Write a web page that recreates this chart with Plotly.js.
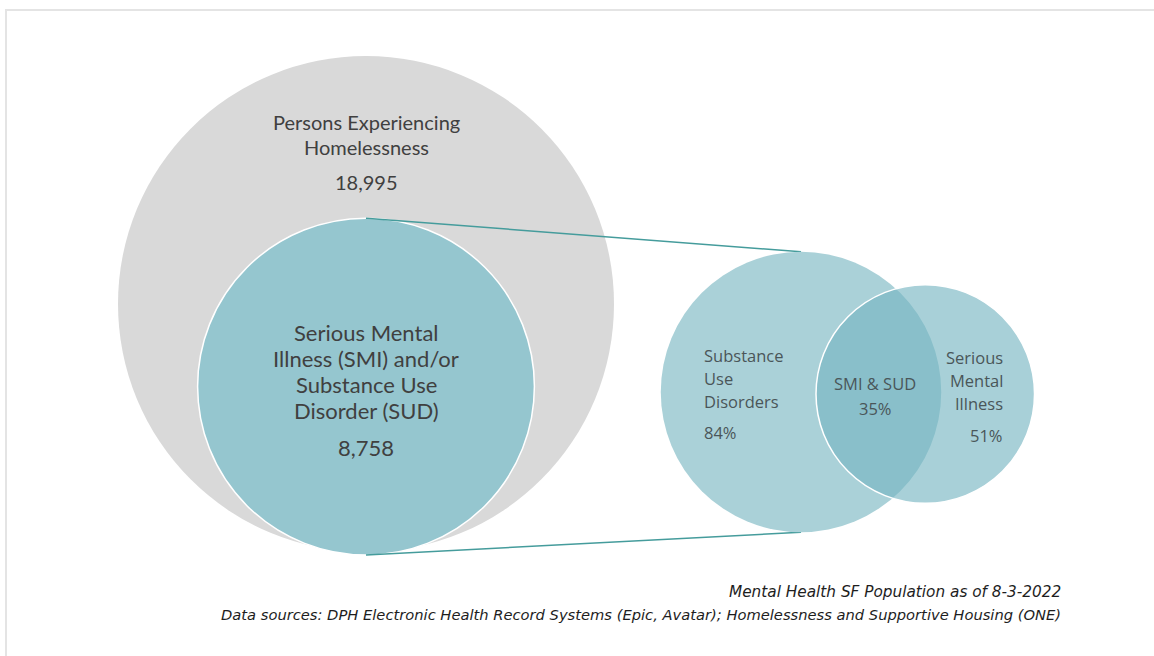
<!DOCTYPE html>
<html>
<head>
<meta charset="utf-8">
<script src="https://cdn.plot.ly/plotly-3.0.1.min.js"></script>
<style>html,body{margin:0;padding:0;background:#fff;}#chart{width:1154px;height:656px;}</style>
</head>
<body>
<div id="chart"></div>
<script>
// ---- data ----
const outerLabelLines = ["Persons Experiencing", "Homelessness"];
const innerLabelLines = ["Serious Mental", "Illness (SMI) and/or", "Substance Use", "Disorder (SUD)"];
const populationCounts = [18995, 8758];            // homeless, SMI and/or SUD
const vennSudLines = ["Substance", "Use", "Disorders"];
const vennBothLines = ["SMI & SUD"];
const vennSmiLines = ["Serious", "Mental", "Illness"];
const vennShares = [84, 35, 51];                   // SUD, both, SMI (%)
const footnotes = [
  "Mental Health SF Population as of 8-3-2022",
  "Data sources: DPH Electronic Health Record Systems (Epic, Avatar); Homelessness and Supportive Housing (ONE)"
];

// ---- layout geometry (diagram units = pixels) ----
const W = 1154, H = 656;
const outerR = 248, outerC = [366, 304];
const innerR = outerR * Math.sqrt(populationCounts[1] / populationCounts[0]);
const innerC = [366, 555 - innerR];
const vennK = 153;
const sudR = vennK * Math.sqrt(vennShares[0] / 100);
const smiR = vennK * Math.sqrt(vennShares[2] / 100);
const sudC = [801, 392];
const smiC = [816 + smiR, 394];

const textColor = "#404040";
const vennText = "#4a5659";
const font1 = "Lato, 'Open Sans', sans-serif";
const font2 = "'Open Sans', Lato, sans-serif";
const font3 = "'DejaVu Sans', 'Open Sans', sans-serif";

function circle(c, r, fill, lineColor, lineWidth) {
  return {type: "circle", xref: "x", yref: "y",
    x0: c[0] - r, x1: c[0] + r, y0: c[1] - r, y1: c[1] + r,
    fillcolor: fill, line: {color: lineColor, width: lineWidth}, layer: "above"};
}

const shapes = [
  {type: "path", xref: "x", yref: "y", path: "M 6 660 L 6 10 L 1160 10",
   line: {color: "#e4e4e4", width: 2}, layer: "above"},
  circle(outerC, outerR, "#d9d9d9", "rgba(0,0,0,0)", 0),
  circle(innerC, innerR, "#95c6cf", "#ffffff", 1.5),
  {type: "line", xref: "x", yref: "y", x0: innerC[0], y0: innerC[1] - innerR, x1: sudC[0], y1: sudC[1] - sudR,
   line: {color: "#459c9c", width: 1.5}, layer: "above"},
  {type: "line", xref: "x", yref: "y", x0: innerC[0], y0: innerC[1] + innerR, x1: sudC[0], y1: sudC[1] + sudR,
   line: {color: "#459c9c", width: 1.5}, layer: "above"},
  circle(sudC, sudR, "#aad1d8", "rgba(0,0,0,0)", 0),
  circle(smiC, smiR, "rgba(117,180,193,0.63)", "#ffffff", 1.5)
];

const annotations = [];
function addText(text, x, y, opts) {
  annotations.push(Object.assign({
    x: x, y: y, xref: "x", yref: "y", text: text, showarrow: false,
    xanchor: "center", yanchor: "middle",
    font: {family: font1, size: 20, color: textColor}
  }, opts || {}));
}

const fmt = n => n.toLocaleString("en-US");

// outer circle labels
[122, 147].forEach((y, i) => addText(outerLabelLines[i], outerC[0], y));
addText(fmt(populationCounts[0]), outerC[0], 182);
// inner circle labels
const inf = {family: font1, size: 22, color: textColor};
[332, 358, 384, 410].forEach((y, i) => addText(innerLabelLines[i], innerC[0], y, {font: inf}));
addText(fmt(populationCounts[1]), innerC[0], 447, {font: inf});

// venn labels
const vf = {family: font2, size: 16.5, color: vennText};
[355, 378, 401].forEach((y, i) => addText(vennSudLines[i], 702, y, {xanchor: "left", font: vf}));
addText(vennShares[0] + "%", 702, 432, {xanchor: "left", font: vf});
addText(vennBothLines[0], 875, 383, {font: vf});
addText(vennShares[1] + "%", 875, 408, {font: vf});
[357, 380, 403].forEach((y, i) => addText(vennSmiLines[i], 1005, y, {xanchor: "right", font: vf}));
addText(vennShares[2] + "%", 1005, 435, {xanchor: "right", font: vf});

// footnotes
const ff = {family: font3, size: 14.7, color: "#1e1e1e", style: "italic"};
addText(footnotes[0], 1063, 592, {xanchor: "right", font: Object.assign({}, ff, {size: 15.3})});
addText(footnotes[1], 1063, 614, {xanchor: "right", font: ff});

const layout = {
  width: W, height: H,
  margin: {l: 0, r: 0, t: 0, b: 0, pad: 0},
  paper_bgcolor: "#ffffff", plot_bgcolor: "#ffffff",
  showlegend: false,
  xaxis: {range: [0, W], visible: false, fixedrange: true},
  yaxis: {range: [H, 0], visible: false, fixedrange: true},
  shapes: shapes,
  annotations: annotations
};

Plotly.newPlot("chart", [{x: [], y: [], type: "scatter", mode: "markers", hoverinfo: "skip"}], layout,
  {displayModeBar: false, staticPlot: true});
</script>
</body>
</html>
